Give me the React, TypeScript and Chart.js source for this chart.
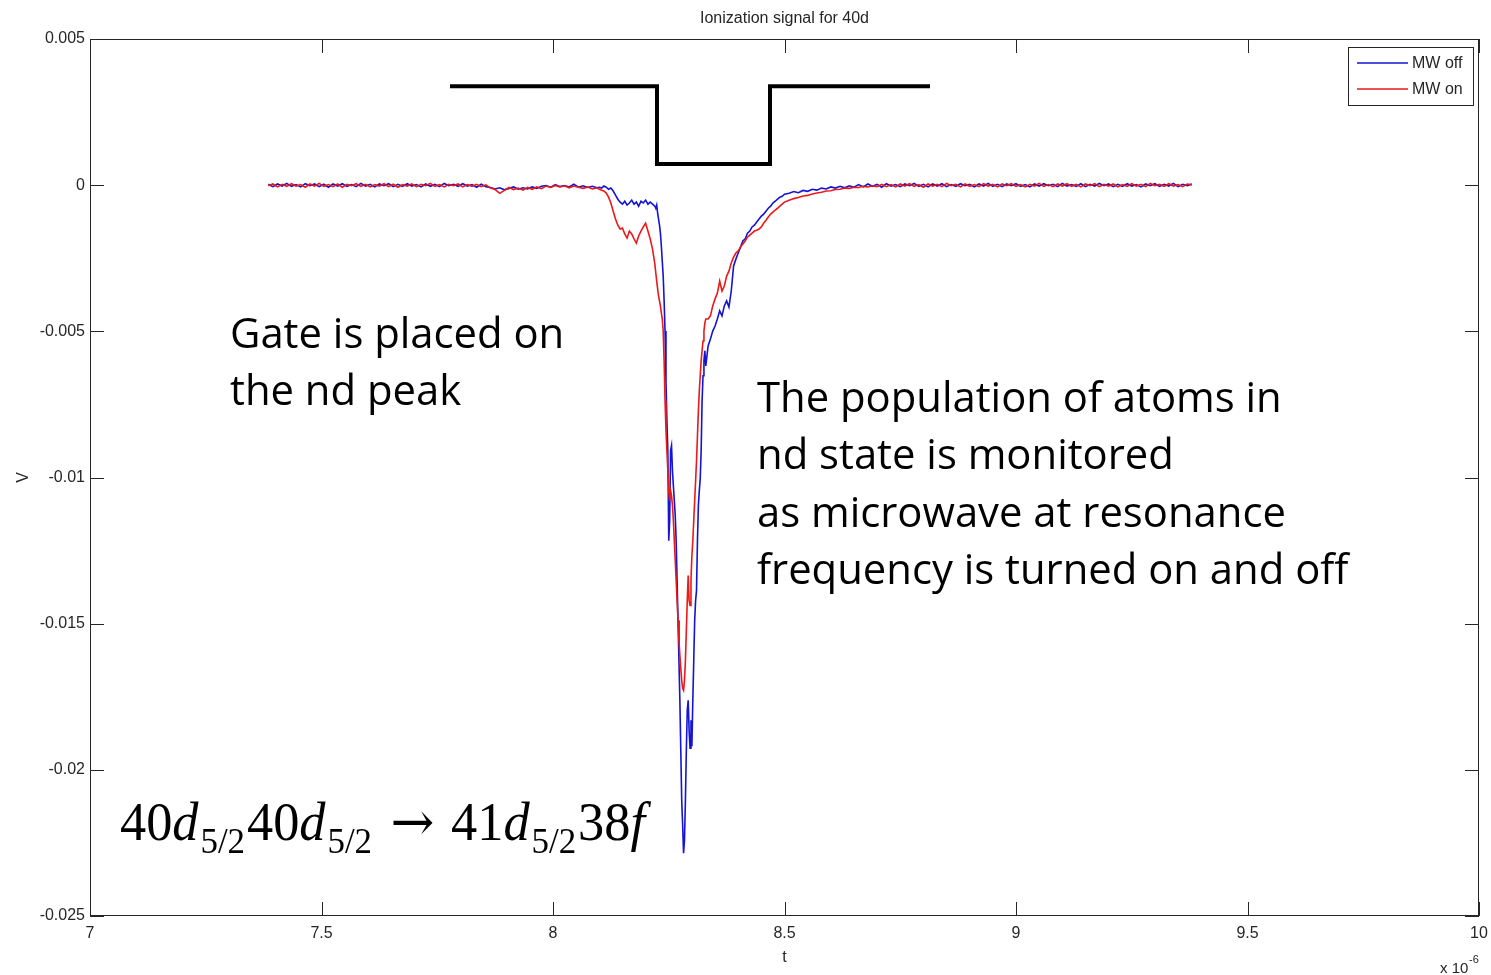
import React, { useEffect, useRef } from 'react';
import { Chart, registerables } from 'chart.js';

Chart.register(...registerables);

// ---------- DATA (time in units of 1e-6 s, signal in V) ----------
const timeA = [
  7.385, 7.395, 7.405, 7.415, 7.425, 7.435, 7.445, 7.455, 7.465, 7.475,
  7.485, 7.495, 7.505, 7.515, 7.525, 7.535, 7.545, 7.555, 7.565, 7.575,
  7.585, 7.595, 7.605, 7.615, 7.625, 7.635, 7.645, 7.655, 7.665, 7.675,
  7.685, 7.695, 7.705, 7.715, 7.725, 7.735, 7.745, 7.755, 7.765, 7.775,
  7.785, 7.795, 7.805, 7.815, 7.825, 7.835, 7.845, 7.855, 7.865, 7.875,
  7.885, 7.895, 7.905, 7.915, 7.925, 7.935, 7.945, 7.955, 7.965, 7.975,
  7.985, 7.995, 8.005, 8.015, 8.025, 8.035, 8.045, 8.055, 8.065, 8.075,
  8.085, 8.095,
];
const mwOffA = [
  0.00003, -0.00005, 0.00004, -0.00003, 0.00006, -0.00004, 0.00002, -0.00006, 0.00005, -0.00002,
  0.00004, -0.00005, 0.00003, -0.00007, 0.00004, -0.00003, 0.00005, -0.00004, 0.00002, -0.00005,
  0.00006, -0.00003, 0.00003, -0.00006, 0.00004, -0.00002, 0.00005, -0.00005, 0.00003, -0.00004,
  0.00005, -0.00003, 0.00002, -0.00006, 0.00004, -0.00004, 0.00003, -0.00005, 0.00006, -0.00002,
  0.00003, -0.00004, 0.00005, -0.00003, 0.00002, -0.00007, 0.00003, -0.00005, -0.00008, -0.00013,
  -0.00009, -0.00016, -0.00011, -0.00006, -0.00014, -0.00009, -0.00013, -0.00006, -0.00011, -0.00004,
  -0.00001, -0.00007, 0.00002, -0.00005, -0.00001, -0.00006, 0.00003, -0.00007, -0.00002, -0.00008,
  -0.00004, -0.00009,
];
const mwOnA = [
  -0.00002, 0.00004, -0.00006, 0.00003, -0.00004, 0.00005, -0.00003, 0.00002, -0.00007, 0.00004,
  -0.00003, 0.00006, -0.00004, 0.00002, -0.00005, 0.00004, -0.00007, 0.00003, -0.00002, 0.00005,
  -0.00004, 0.00003, -0.00006, 0.00002, -0.00003, 0.00005, -0.00005, 0.00003, -0.00007, 0.00002,
  -0.00003, 0.00004, -0.00005, 0.00003, -0.00002, 0.00006, -0.00004, 0.00002, -0.00006, 0.00003,
  -0.00002, 0.00004, -0.00006, 0.00002, -0.00004, 0.00003, -0.00005, 0.00001, -0.0001, -0.00015,
  -0.00028, -0.00018, -0.00008, -0.00015, -0.0001, -0.00017, -0.00008, -0.00014, -0.00006, -0.00012,
  -0.00003, -0.00008, -0.00001, -0.00006, -0.00002, -0.00009, -0.00003, -0.00007, -0.00011, -0.00006,
  -0.00013, -0.00009,
];

const timeB = [
  8.1, 8.105, 8.11, 8.115, 8.12, 8.125, 8.13, 8.135, 8.14, 8.145, 8.15, 8.155,
  8.16, 8.165, 8.17, 8.175, 8.18, 8.185, 8.19, 8.195, 8.2, 8.205, 8.21, 8.215,
];
const mwOffB = [
  -0.00007, -0.0001, -0.00003, -0.00007, -0.00014, -0.0001, -0.0002, -0.00034, -0.00048, -0.00058, -0.00065, -0.00055,
  -0.00068, -0.00061, -0.00051, -0.00065, -0.00058, -0.00072, -0.00055, -0.00061, -0.00051, -0.00065, -0.00058, -0.00065,
];
const mwOnB = [
  -0.00014, -0.00017, -0.0002, -0.00027, -0.00041, -0.00061, -0.00089, -0.00116, -0.00137, -0.0015, -0.00147, -0.00167,
  -0.00181, -0.00157, -0.00167, -0.00184, -0.00198, -0.00174, -0.00157, -0.00143, -0.0013, -0.00157, -0.00184, -0.00219,
];

const timeC = [
  8.22, 8.222, 8.224, 8.226, 8.228, 8.23, 8.232, 8.234, 8.236, 8.238,
  8.24, 8.242, 8.244, 8.246, 8.248, 8.25, 8.252, 8.254, 8.256, 8.258,
  8.26, 8.262, 8.264, 8.266, 8.268, 8.27, 8.272, 8.274, 8.276, 8.278,
  8.28, 8.282, 8.284, 8.286, 8.288, 8.29, 8.292, 8.294, 8.296, 8.298,
  8.3, 8.302, 8.304, 8.306, 8.308, 8.31, 8.312, 8.314, 8.316, 8.318,
  8.32, 8.322, 8.324, 8.326, 8.328, 8.33,
];
const mwOffC = [
  -0.00072, -0.00079, -0.00068, -0.00096, -0.00116, -0.00137, -0.00164, -0.00208, -0.0026, -0.00311,
  -0.00396, -0.00499, -0.00669, -0.00806, -0.00908, -0.01216, -0.01147, -0.00908, -0.00891, -0.00977,
  -0.01028, -0.01079, -0.0113, -0.01216, -0.01352, -0.01489, -0.01626, -0.01762, -0.01933, -0.02104,
  -0.02189, -0.02285, -0.0224, -0.02104, -0.01933, -0.01796, -0.01762, -0.01865, -0.01926, -0.0183,
  -0.01919, -0.01762, -0.01626, -0.01489, -0.01421, -0.01386, -0.01216, -0.01096, -0.01045, -0.01004,
  -0.00908, -0.00738, -0.00652, -0.00601, -0.00567, -0.00618,
];
const mwOnC = [
  -0.0027, -0.003, -0.00328, -0.00355, -0.00379, -0.00396, -0.00413, -0.00437, -0.00458, -0.00499,
  -0.00601, -0.00738, -0.0084, -0.00908, -0.00977, -0.01045, -0.01079, -0.01045, -0.01062, -0.01096,
  -0.01147, -0.01216, -0.01284, -0.01352, -0.01421, -0.01489, -0.01557, -0.01608, -0.01653, -0.01694,
  -0.01721, -0.01728, -0.01694, -0.01626, -0.01523, -0.01421, -0.01335, -0.01421, -0.01438, -0.01352,
  -0.01267, -0.01216, -0.01147, -0.01079, -0.01011, -0.00943, -0.00857, -0.00772, -0.00703, -0.00652,
  -0.00601, -0.00567, -0.00533, -0.00499, -0.00471, -0.00458,
];

const timeD = [
  8.335, 8.34, 8.345, 8.35, 8.355, 8.36, 8.365, 8.37, 8.375, 8.38, 8.385, 8.39,
  8.395, 8.4, 8.405, 8.41, 8.415, 8.42, 8.425, 8.43, 8.435, 8.44, 8.445, 8.45,
  8.455, 8.46, 8.465, 8.47, 8.475, 8.48, 8.485, 8.49, 8.495, 8.5,
];
const mwOffD = [
  -0.0055, -0.00526, -0.00499, -0.00482, -0.00458, -0.0043, -0.00447, -0.00413, -0.00396, -0.00417, -0.00362, -0.00277,
  -0.00253, -0.00232, -0.00212, -0.00191, -0.00184, -0.00164, -0.00157, -0.00143, -0.00137, -0.00126, -0.00116, -0.00106,
  -0.00099, -0.00089, -0.00079, -0.00072, -0.00061, -0.00055, -0.00048, -0.00041, -0.00038, -0.00031,
];
const mwOnD = [
  -0.00458, -0.00447, -0.00413, -0.00389, -0.00369, -0.00328, -0.00362, -0.00345, -0.00311, -0.00294, -0.00266, -0.00246,
  -0.00232, -0.00225, -0.00212, -0.00201, -0.00191, -0.00178, -0.00171, -0.00164, -0.00157, -0.00154, -0.0015, -0.00143,
  -0.0013, -0.0012, -0.00109, -0.00099, -0.00092, -0.00085, -0.00079, -0.00072, -0.00065, -0.00058,
];

const timeE = [
  8.51, 8.52, 8.53, 8.54, 8.55, 8.56, 8.57, 8.58, 8.59, 8.6,
  8.61, 8.62, 8.63, 8.64, 8.65, 8.66, 8.67, 8.68, 8.69, 8.7,
  8.71, 8.72, 8.73, 8.74, 8.75, 8.76, 8.77, 8.78, 8.79, 8.8,
  8.81, 8.82, 8.83, 8.84, 8.85, 8.86, 8.87, 8.88, 8.89, 8.9,
  8.91, 8.92, 8.93, 8.94, 8.95, 8.96, 8.97, 8.98, 8.99, 9.0,
  9.01, 9.02, 9.03, 9.04, 9.05, 9.06, 9.07, 9.08, 9.09, 9.1,
  9.11, 9.12, 9.13, 9.14, 9.15, 9.16, 9.17, 9.18, 9.19, 9.2,
  9.21, 9.22, 9.23, 9.24, 9.25, 9.26, 9.27, 9.28, 9.29, 9.3,
  9.31, 9.32, 9.33, 9.34, 9.35, 9.36, 9.37, 9.38,
];
const mwOffE = [
  -0.00028, -0.00022, -0.00026, -0.00018, -0.00021, -0.00014, -0.00017, -0.0001, -0.00013, -0.00006,
  -0.0001, -0.00004, -0.00009, -0.00002, -0.00007,
  0.00002, -0.00006, 0.00004, -0.00004, 0.00003, -0.00007, 0.00005, -0.00003, 0.00002, -0.00005,
  0.00004, -0.00002, 0.00006, -0.00004, 0.00003, -0.00006, 0.00004, -0.00003, 0.00005, -0.00005,
  0.00002, -0.00004, 0.00005, -0.00002, 0.00003, -0.00006, 0.00004, -0.00003, 0.00006, -0.00004,
  0.00003, -0.00005, 0.00004, -0.00002, 0.00005, -0.00004, 0.00002, -0.00006, 0.00004, -0.00003,
  0.00005, -0.00002, 0.00003, -0.00005, 0.00006, -0.00003, 0.00002, -0.00004, 0.00005, -0.00005,
  0.00003, -0.00003, 0.00006, -0.00002, 0.00004, -0.00005, 0.00003, -0.00004, 0.00005, -0.00003,
  0.00002, -0.00006, 0.00004, -0.00002, 0.00005, -0.00004, 0.00003, -0.00003, 0.00006, -0.00005,
  0.00003, -0.00002, 0.00004,
];
const mwOnE = [
  -0.00052, -0.00046, -0.00042, -0.00037, -0.00035, -0.0003, -0.00027, -0.00024, -0.0002, -0.00019,
  -0.00015, -0.00014, -0.0001, -0.00011, -0.00007, -0.00008, -0.00004, -0.00006, -0.00002, -0.00005,
  0.00003, -0.00005, 0.00002, -0.00006, 0.00004, -0.00003, 0.00005, -0.00004, 0.00002, -0.00007,
  0.00004, -0.00003, 0.00003, -0.00005, 0.00006, -0.00002, 0.00003, -0.00006, 0.00004, -0.00004,
  0.00002, -0.00005, 0.00005, -0.00003, 0.00003, -0.00006, 0.00004, -0.00002, 0.00005, -0.00004,
  0.00002, -0.00006, 0.00003, -0.00003, 0.00006, -0.00004, 0.00002, -0.00005, 0.00004, -0.00003,
  0.00005, -0.00004, 0.00003, -0.00006, 0.00004, -0.00002, 0.00005, -0.00005, 0.00003, -0.00003,
  0.00004, -0.00006, 0.00002, -0.00004, 0.00005, -0.00003, 0.00003, -0.00005, 0.00006, -0.00002,
  0.00003, -0.00004, 0.00005, -0.00003, 0.00002, -0.00005, 0.00004, 0.00001,
];

// Gate (black step outline)
const gateTime = [7.7775, 8.2246, 8.2246, 8.4687, 8.4687, 8.8143];
const gateLevel = [0.00338, 0.00338, 0.00072, 0.00072, 0.00338, 0.00338];

// Axes
const xTickValues = [7, 7.5, 8, 8.5, 9, 9.5, 10];
const xTickLabels = ['7', '7.5', '8', '8.5', '9', '9.5', '10'];
const yTickValues = [0.005, 0, -0.005, -0.01, -0.015, -0.02, -0.025];
const yTickLabels = ['0.005', '0', '-0.005', '-0.01', '-0.015', '-0.02', '-0.025'];

const seriesNames = ['MW off', 'MW on'];
const chartTitle = 'Ionization signal for 40d';
const xAxisLabel = 't';
const yAxisLabel = 'V';
const gateNote = ['Gate is placed on', 'the nd peak'];
const monitorNote = [
  'The population of atoms in',
  'nd state is monitored',
  'as microwave at resonance',
  'frequency is turned on and off',
];

const BLUE = 'rgb(20, 20, 210)';
const RED = 'rgb(235, 25, 25)';
const AXIS = '#262626';
const SANS = '"Liberation Sans", Arial, sans-serif';

function zipPts(t: number[], v: number[]) {
  const n = Math.min(t.length, v.length);
  const out: { x: number; y: number }[] = [];
  for (let i = 0; i < n; i++) out.push({ x: t[i], y: v[i] });
  return out;
}

const framePlugin = {
  id: 'matlabFrame',
  afterDraw(chart: any) {
    const { ctx, chartArea } = chart;
    const { left, right, top, bottom } = chartArea;
    const xs = chart.scales.x;
    const ys = chart.scales.y;
    ctx.save();

    // box
    ctx.strokeStyle = AXIS;
    ctx.lineWidth = 1;
    ctx.strokeRect(left + 0.5, top + 0.5, right - left - 1, bottom - top - 1);

    // inward ticks on all sides
    const tl = 14;
    ctx.beginPath();
    xTickValues.forEach((v) => {
      const px = Math.round(xs.getPixelForValue(v)) + 0.5;
      ctx.moveTo(px, bottom);
      ctx.lineTo(px, bottom - tl);
      ctx.moveTo(px, top);
      ctx.lineTo(px, top + tl);
    });
    yTickValues.forEach((v) => {
      const py = Math.round(ys.getPixelForValue(v)) + 0.5;
      ctx.moveTo(left, py);
      ctx.lineTo(left + tl, py);
      ctx.moveTo(right, py);
      ctx.lineTo(right - tl, py);
    });
    ctx.stroke();

    // title & axis labels
    ctx.fillStyle = AXIS;
    ctx.font = '16px ' + SANS;
    ctx.textAlign = 'center';
    ctx.textBaseline = 'alphabetic';
    ctx.fillText(chartTitle, (left + right) / 2, 23);
    ctx.fillText(xAxisLabel, (left + right) / 2, 962);
    ctx.save();
    ctx.translate(28, (top + bottom) / 2);
    ctx.rotate(-Math.PI / 2);
    ctx.fillText(yAxisLabel, 0, 0);
    ctx.restore();

    // x 10^-6 multiplier
    ctx.textAlign = 'left';
    ctx.font = '15px ' + SANS;
    ctx.fillText('x 10', 1440, 973);
    ctx.font = '11px ' + SANS;
    ctx.fillText('-6', 1469, 963);

    // legend
    const lx = 1348, ly = 47, lw = 125, lh = 58;
    ctx.fillStyle = '#ffffff';
    ctx.fillRect(lx, ly, lw, lh);
    ctx.strokeStyle = AXIS;
    ctx.lineWidth = 1;
    ctx.strokeRect(lx + 0.5, ly + 0.5, lw, lh);
    const rows = [
      { name: seriesNames[0], color: BLUE, y: 63 },
      { name: seriesNames[1], color: RED, y: 89 },
    ];
    rows.forEach((r) => {
      ctx.strokeStyle = r.color;
      ctx.lineWidth = 1.5;
      ctx.beginPath();
      ctx.moveTo(1357, r.y);
      ctx.lineTo(1408, r.y);
      ctx.stroke();
      ctx.fillStyle = AXIS;
      ctx.font = '16px ' + SANS;
      ctx.textAlign = 'left';
      ctx.textBaseline = 'middle';
      ctx.fillText(r.name, 1412, r.y + 1);
    });

    // annotations
    ctx.fillStyle = '#000000';
    ctx.textBaseline = 'alphabetic';
    ctx.textAlign = 'left';
    ctx.font = '41.8px "Open Sans", sans-serif';
    gateNote.forEach((s, i) => ctx.fillText(s, 230, 348 + i * 57));
    monitorNote.forEach((s, i) => ctx.fillText(s, 757, 412 + i * 57.3));

    // formula
    const mainF = '54px "Liberation Serif", "Times New Roman", serif';
    const itF = 'italic 54px "Liberation Serif", "Times New Roman", serif';
    const subF = '36px "Liberation Serif", "Times New Roman", serif';
    const arrowF = '54px "DejaVu Serif", serif';
    const pieces = [
      { t: '40', f: mainF, sub: false }, { t: 'd', f: itF, sub: false }, { t: '5/2', f: subF, sub: true },
      { t: '40', f: mainF, sub: false }, { t: 'd', f: itF, sub: false }, { t: '5/2', f: subF, sub: true },
      { t: ' \u2192 ', f: arrowF, sub: false },
      { t: '41', f: mainF, sub: false }, { t: 'd', f: itF, sub: false }, { t: '5/2', f: subF, sub: true },
      { t: '38', f: mainF, sub: false }, { t: 'f', f: itF, sub: false },
    ];
    let total = 0;
    const widths = pieces.map((p) => {
      ctx.font = p.f;
      const w = ctx.measureText(p.t).width + (p.sub ? 4 : 0);
      total += w;
      return w;
    });
    const sx = 525 / total;
    ctx.save();
    ctx.translate(120, 0);
    ctx.scale(sx, 1);
    let cx = 0;
    pieces.forEach((p, i) => {
      ctx.font = p.f;
      ctx.fillText(p.t, cx + (p.sub ? 2 : 0), p.sub ? 853 : 840);
      cx += widths[i];
    });
    ctx.restore();

    ctx.restore();
  },
};

export default function App() {
  const ref = useRef<HTMLCanvasElement | null>(null);
  useEffect(() => {
    if (!ref.current) return;
    const offPts = [
      ...zipPts(timeA, mwOffA), ...zipPts(timeB, mwOffB), ...zipPts(timeC, mwOffC),
      ...zipPts(timeD, mwOffD), ...zipPts(timeE, mwOffE),
    ];
    const onPts = [
      ...zipPts(timeA, mwOnA), ...zipPts(timeB, mwOnB), ...zipPts(timeC, mwOnC),
      ...zipPts(timeD, mwOnD), ...zipPts(timeE, mwOnE),
    ];
    const gatePts = zipPts(gateTime, gateLevel);
    const tickFont = { family: SANS, size: 16 };
    const chart = new Chart(ref.current, {
      type: 'line',
      data: {
        datasets: [
          { label: 'gate', data: gatePts, borderColor: '#000', borderWidth: 4, pointRadius: 0, fill: false, tension: 0, order: 2, borderJoinStyle: 'miter', borderCapStyle: 'butt' } as any,
          { label: seriesNames[0], data: offPts, borderColor: BLUE, borderWidth: 1.6, pointRadius: 0, fill: false, tension: 0, order: 1 } as any,
          { label: seriesNames[1], data: onPts, borderColor: RED, borderWidth: 1.6, pointRadius: 0, fill: false, tension: 0, order: 0 } as any,
        ],
      },
      options: {
        animation: false,
        responsive: true,
        maintainAspectRatio: false,
        layout: { padding: { top: 39, right: 12, left: 0, bottom: 0 }, autoPadding: false } as any,
        plugins: {
          legend: { display: false },
          title: { display: false },
          tooltip: { enabled: false },
        },
        events: [],
        scales: {
          x: {
            type: 'linear',
            min: 7,
            max: 10,
            afterBuildTicks: (s: any) => { s.ticks = xTickValues.map((v) => ({ value: v })); },
            afterFit: (s: any) => { s.height = 59; s.paddingLeft = 0; s.paddingRight = 0; },
            ticks: {
              callback: (_v: any, i: number) => xTickLabels[i],
              font: tickFont,
              color: AXIS,
              padding: 8,
              maxRotation: 0,
              autoSkip: false,
            },
            grid: { display: false, drawTicks: false },
            border: { display: false },
          } as any,
          y: {
            type: 'linear',
            min: -0.025,
            max: 0.005,
            afterBuildTicks: (s: any) => { s.ticks = yTickValues.map((v) => ({ value: v })); },
            afterFit: (s: any) => { s.width = 90; s.paddingTop = 0; s.paddingBottom = 0; },
            ticks: {
              callback: (_v: any, i: number) => yTickLabels[i],
              font: tickFont,
              color: AXIS,
              padding: 5,
              autoSkip: false,
            },
            grid: { display: false, drawTicks: false },
            border: { display: false },
          } as any,
        },
      },
      plugins: [framePlugin],
    });
    return () => chart.destroy();
  }, []);

  return (
    <div style={{ position: 'fixed', left: 0, top: 0, width: 1491, height: 975, background: '#fff' }}>
      <canvas ref={ref} />
    </div>
  );
}
